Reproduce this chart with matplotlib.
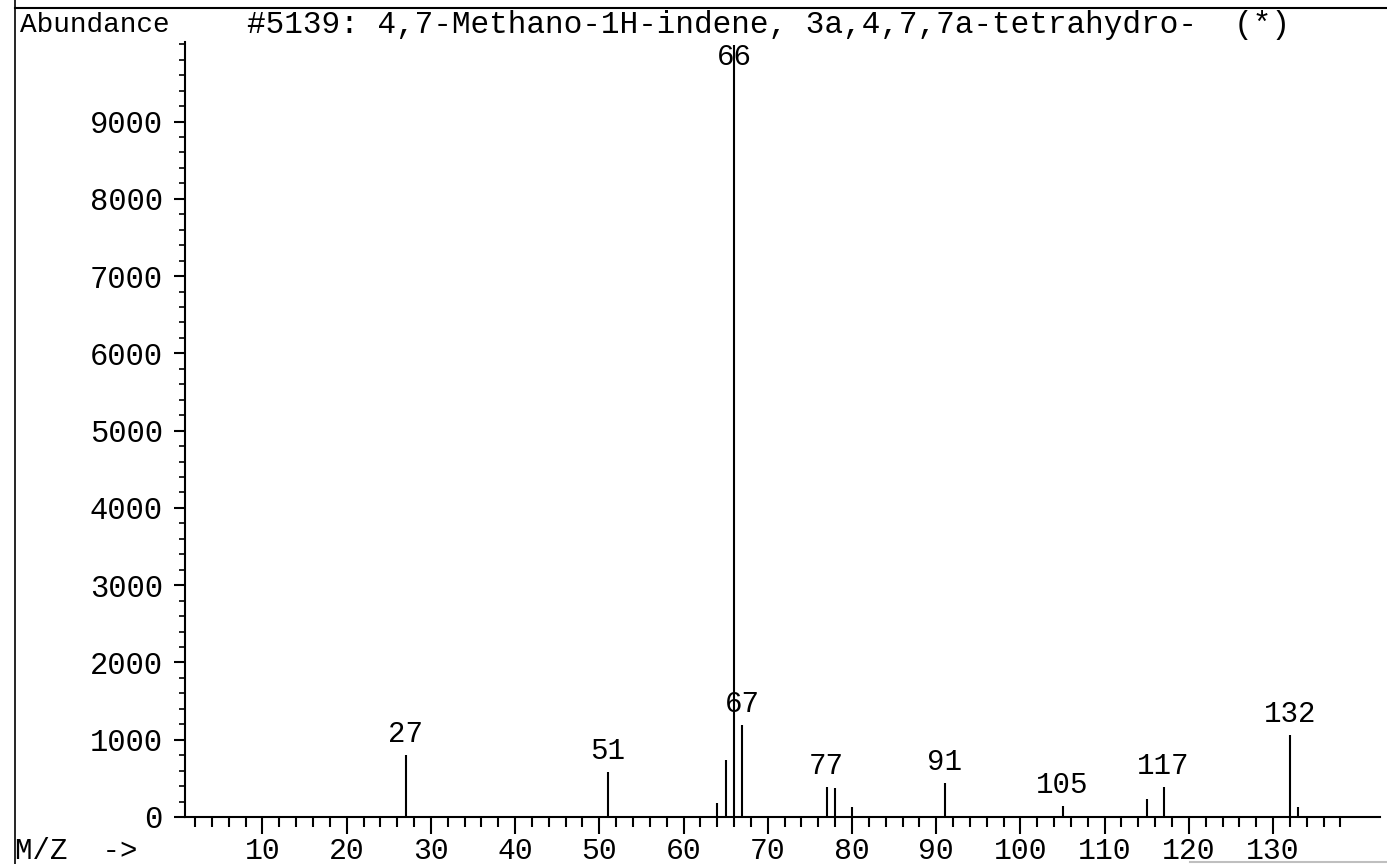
import numpy as np
import matplotlib.pyplot as plt

mz = [27, 51, 64, 65, 66, 67, 77, 78, 80, 91, 105, 115, 117, 132, 133]
abondance = [797, 582, 180, 737, 9990, 1190, 392, 371, 133, 444, 142, 229, 388, 1057, 130]
etiquettes = [27, 51, 66, 67, 77, 91, 105, 117, 132]

titre = "#5139: 4,7-Methano-1H-indene, 3a,4,7,7a-tetrahydro-  (*)"

plt.rcParams['font.family'] = ['Liberation Mono', 'DejaVu Sans Mono']

fig = plt.figure(figsize=(13.87, 8.64), dpi=100)
ax = fig.add_axes([185 / 1387, 1 - 817 / 864, (1380 - 185) / 1387, (817 - 42) / 864])

ax.vlines(mz, 0, abondance, colors='black', lw=1.5)

ax.set_xlim(0.8, 142.7)
ax.set_ylim(0, 10030)

for m in etiquettes:
    h = abondance[mz.index(m)]
    if h > 9000:
        # pic de base : étiquette dans le haut de l'axe
        ax.annotate(str(m), (m, 10030), xytext=(0, -1), textcoords='offset points',
                    ha='center', va='top', fontsize=21)
    else:
        ax.annotate(str(m), (m, h), xytext=(0, 5), textcoords='offset points',
                    ha='center', va='bottom', fontsize=21)

# axes à la façon du logiciel ChemStation
for s in ['top', 'right']:
    ax.spines[s].set_visible(False)
ax.spines['left'].set_linewidth(1.5)
ax.spines['bottom'].set_linewidth(1.5)

ax.set_xticks(np.arange(10, 131, 10))
ax.set_xticks(np.arange(2, 139, 2), minor=True)
ax.set_yticks(np.arange(0, 9001, 1000))
ax.set_yticks(np.arange(0, 10001, 200), minor=True)
ax.tick_params(axis='x', which='major', direction='out', length=12, width=1.5,
               labelsize=21.5, pad=2.5)
ax.tick_params(axis='x', which='minor', direction='out', length=7, width=1.5)
ax.tick_params(axis='y', which='major', direction='out', length=8, width=1.5,
               labelsize=22, pad=8)
ax.tick_params(axis='y', which='minor', direction='out', length=4, width=1.2)

# textes d'en-tête et cadre de la page
fig.text(20 / 1387, 1 - 25 / 864, "Abundance", fontsize=20, va='center', ha='left')
fig.text(247 / 1387, 1 - 25 / 864, titre, fontsize=22.4, va='center', ha='left')
fig.text(15 / 1387, 1 - 851 / 864, "M/Z  ->", fontsize=21, va='center', ha='left')
fig.add_artist(plt.Line2D([15 / 1387, 15 / 1387], [0, 1], color='black', lw=1.2))
fig.add_artist(plt.Line2D([15 / 1387, 1], [1 - 8 / 864, 1 - 8 / 864], color='black', lw=1.5))
fig.add_artist(plt.Line2D([1190 / 1387, 1], [2 / 864, 2 / 864], color='0.75', lw=1.5))

fig.savefig("out.png", dpi=100)
